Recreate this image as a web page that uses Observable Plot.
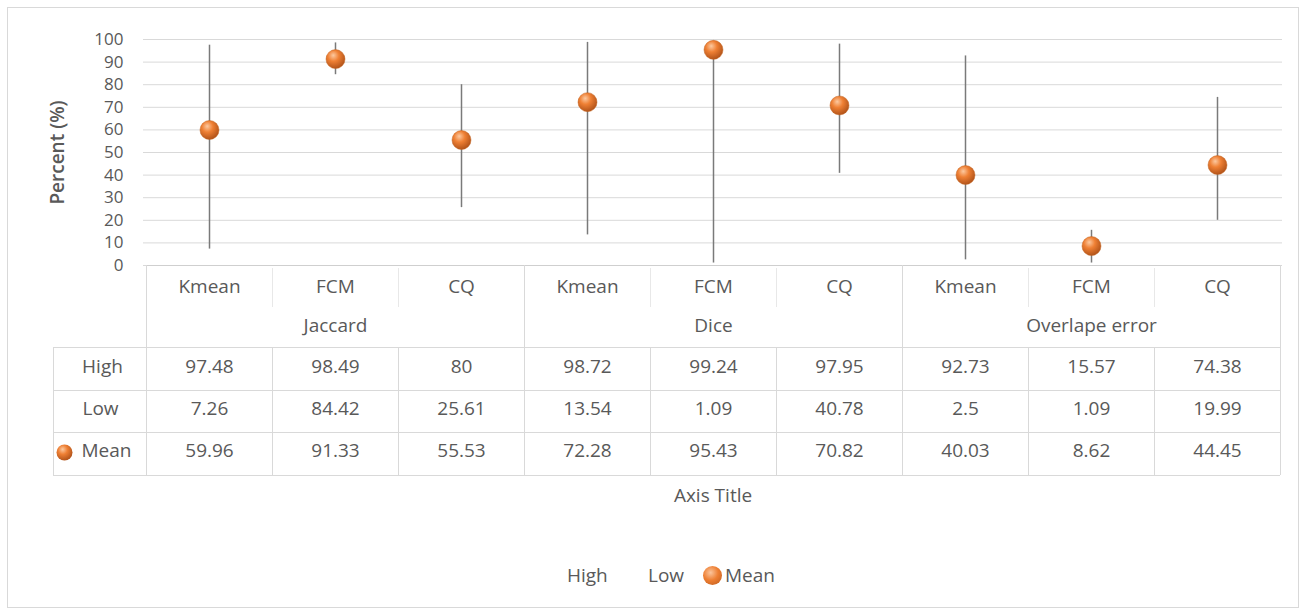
<!DOCTYPE html>
<html><head><meta charset="utf-8">
<script src="https://cdn.jsdelivr.net/npm/d3@7"></script>
<script src="https://cdn.jsdelivr.net/npm/@observablehq/plot@0.6"></script>
<style>
body{margin:0;background:#fff;font-family:"Open Sans",sans-serif;}
#wrap{position:relative;width:1308px;height:615px;overflow:hidden;}
#frame{position:absolute;left:7px;top:7px;width:1292px;height:601px;border:1px solid #d9d9d9;box-sizing:border-box;}
#chart{position:absolute;left:0;top:0;}
.lg{position:absolute;top:562px;font-size:19px;color:#595959;line-height:26px;white-space:nowrap;}
.mk{position:absolute;top:566px;width:19px;height:19px;border-radius:50%;
 background:radial-gradient(circle at 40% 35%, #fbc59c 0%, #ee7f33 45%, #b8581b 100%);}
</style></head>
<body><div id="wrap"><div id="frame"></div><div id="chart"></div>
<span class="lg" style="left:567px">High</span>
<span class="lg" style="left:648px">Low</span>
<span class="mk" style="left:703px"></span>
<span class="lg" style="left:725px">Mean</span>
</div>
<script>
const groups = ["Jaccard", "Dice", "Overlape error"];
const methods = ["Kmean", "FCM", "CQ"];
const high = [97.48, 98.49, 80, 98.72, 99.24, 97.95, 92.73, 15.57, 74.38];
const low = [7.26, 84.42, 25.61, 13.54, 1.09, 40.78, 2.5, 1.09, 19.99];
const mean = [59.96, 91.33, 55.53, 72.28, 95.43, 70.82, 40.03, 8.62, 44.45];
const yTicks = [0, 10, 20, 30, 40, 50, 60, 70, 80, 90, 100];
const rowLabels = ["High", "Low"];

const data = high.map((h, i) => ({
  key: groups[Math.floor(i / 3)] + "|" + methods[i % 3],
  group: groups[Math.floor(i / 3)],
  method: methods[i % 3],
  high: h, low: low[i], mean: mean[i]
}));
const keys = data.map(d => d.key);
const groupMid = groups.map(g => ({key: g + "|" + methods[1], group: g}));

const txt = "#595959";
const fs = 19;
const W = 1308, H = 540, mT = 39, mB = 275, mL = 143, mR = 26;

const chart = Plot.plot({
  width: W, height: H,
  marginTop: mT, marginBottom: mB, marginLeft: mL, marginRight: mR,
  style: {fontFamily: "'Open Sans', sans-serif", color: txt, background: "transparent", overflow: "visible"},
  x: {type: "band", domain: keys, axis: null, padding: 0},
  y: {domain: [0, 100], axis: null},
  marks: [
    Plot.gridY(yTicks, {stroke: "#d9d9d9", strokeOpacity: 1}),
    Plot.axisY(yTicks, {tickSize: 0, tickPadding: 20, fontSize: 17, fill: txt, label: null}),
    Plot.text(["Percent (%)"], {frameAnchor: "left", textAnchor: "middle", dx: -86, rotate: -90, fontSize: 19, fontWeight: 600, fill: txt, letterSpacing: 1}),
    Plot.ruleX(data, {x: "key", y1: "low", y2: "high", stroke: "#7a7a7a", strokeWidth: 1.5}),
    Plot.dot(data, {x: "key", y: "mean", r: 9.5, fill: "url(#meanGrad)", stroke: "#c46420", strokeWidth: 0.5}),
    // data table
    Plot.text(data, {x: "key", text: "method", frameAnchor: "bottom", dy: 27, fontSize: fs, fill: txt}),
    Plot.text(groupMid, {x: "key", text: "group", frameAnchor: "bottom", dy: 66, fontSize: fs, fill: txt}),
    Plot.text(data, {x: "key", text: d => String(d.high), frameAnchor: "bottom", dy: 107, fontSize: fs, fill: txt}),
    Plot.text(data, {x: "key", text: d => String(d.low), frameAnchor: "bottom", dy: 149, fontSize: fs, fill: txt}),
    Plot.text(data, {x: "key", text: d => String(d.mean), frameAnchor: "bottom", dy: 191, fontSize: fs, fill: txt}),
    Plot.text([rowLabels[0]], {frameAnchor: "bottom-left", textAnchor: "middle", dx: -41, dy: 107, fontSize: fs, fill: txt}),
    Plot.text([rowLabels[1]], {frameAnchor: "bottom-left", textAnchor: "middle", dx: -43, dy: 149, fontSize: fs, fill: txt}),
    Plot.dot([0], {frameAnchor: "bottom-left", dx: -79, dy: 187, r: 8, fill: "url(#meanGrad)"}),
    Plot.text(["Mean"], {frameAnchor: "bottom-left", textAnchor: "start", dx: -62, dy: 191, fontSize: fs, fill: txt}),
    Plot.text(["Axis Title"], {frameAnchor: "bottom", dy: 236, fontSize: fs, fill: txt})
  ]
});

const svg = d3.select(chart);
const defs = svg.insert("defs", ":first-child");
const grad = defs.append("radialGradient").attr("id", "meanGrad")
  .attr("cx", "40%").attr("cy", "35%").attr("r", "65%").attr("fx", "38%").attr("fy", "30%");
grad.append("stop").attr("offset", "0%").attr("stop-color", "#fcc9a0");
grad.append("stop").attr("offset", "45%").attr("stop-color", "#ef8034");
grad.append("stop").attr("offset", "100%").attr("stop-color", "#b3541a");

// table grid lines, positioned from Plot's x scale
const xs = chart.scale("x");
const bw = xs.bandwidth;
const x0 = xs.apply(keys[0]);
const x1 = xs.apply(keys[keys.length - 1]) + bw;
const yb = H - mB;            // bottom of plot frame (x axis line)
const rowTops = [82, 125, 167, 210].map(d => yb + d);
const g = svg.append("g").attr("fill", "none").attr("shape-rendering", "crispEdges");
g.append("line").attr("x1", x0).attr("x2", x1).attr("y1", yb).attr("y2", yb).attr("stroke", "#cfcfcf");
rowTops.forEach(y => g.append("line").attr("x1", mL - 90).attr("x2", x1).attr("y1", y).attr("y2", y).attr("stroke", "#d9d9d9"));
g.append("line").attr("x1", mL - 90).attr("x2", mL - 90).attr("y1", rowTops[0]).attr("y2", rowTops[3]).attr("stroke", "#d9d9d9");
keys.forEach((k, i) => {
  const x = xs.apply(k);
  if (i % 3 === 0) {
    g.append("line").attr("x1", x).attr("x2", x).attr("y1", yb).attr("y2", rowTops[3]).attr("stroke", "#d9d9d9");
  } else {
    g.append("line").attr("x1", x).attr("x2", x).attr("y1", yb + 3).attr("y2", yb + 42).attr("stroke", "#e8e8e8");
    g.append("line").attr("x1", x).attr("x2", x).attr("y1", rowTops[0]).attr("y2", rowTops[3]).attr("stroke", "#d9d9d9");
  }
});
g.append("line").attr("x1", x1).attr("x2", x1).attr("y1", yb).attr("y2", rowTops[3]).attr("stroke", "#d9d9d9");

document.getElementById("chart").appendChild(chart);
</script>
</body></html>
